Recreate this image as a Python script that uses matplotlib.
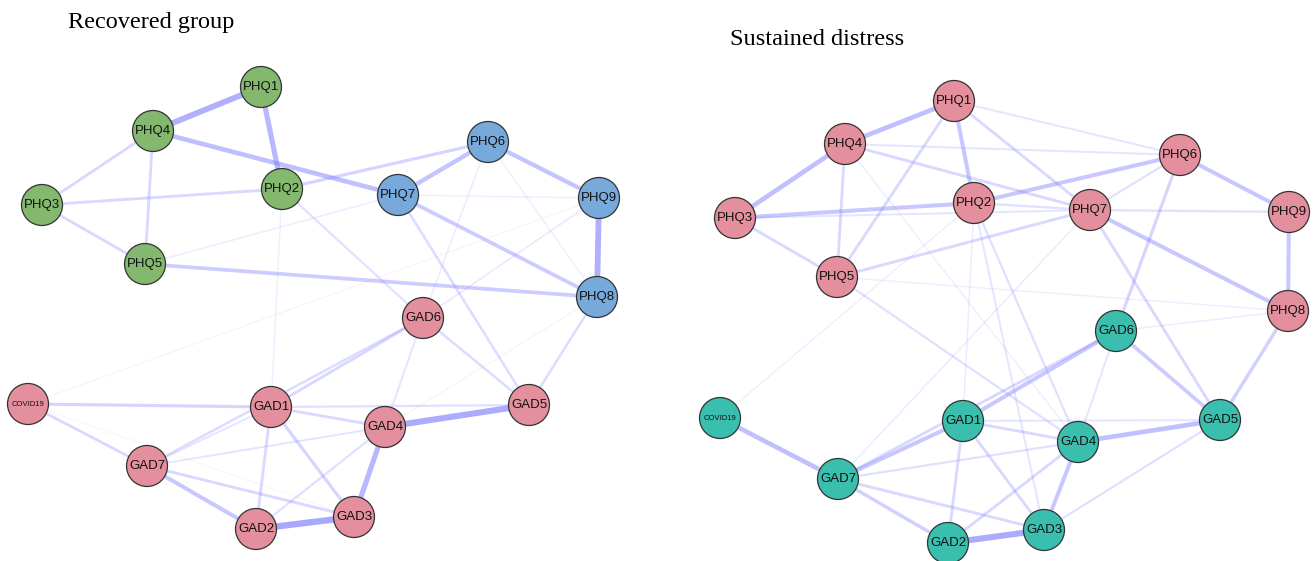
import matplotlib.pyplot as plt
from matplotlib.patches import Circle

# node layout (pixel coords of the original figure)
left_nodes = {
    "PHQ1": (261, 87), "PHQ4": (153, 131), "PHQ2": (282, 189), "PHQ3": (42, 205),
    "PHQ5": (145, 264), "PHQ6": (488, 142), "PHQ7": (398, 195), "PHQ9": (599, 198),
    "PHQ8": (597, 297), "GAD6": (423, 318), "COVID19": (28, 404), "GAD1": (271, 407),
    "GAD4": (385, 427), "GAD5": (529, 405), "GAD7": (147, 466), "GAD2": (256, 529),
    "GAD3": (354, 517),
}
right_nodes = {
    "PHQ1": (954, 101), "PHQ4": (845, 144), "PHQ2": (974, 203), "PHQ3": (735, 218),
    "PHQ5": (837, 277), "PHQ6": (1180, 155), "PHQ7": (1090, 210), "PHQ9": (1289, 212),
    "PHQ8": (1288, 311), "GAD6": (1116, 331), "COVID19": (720, 418), "GAD1": (963, 421),
    "GAD4": (1078, 442), "GAD5": (1220, 420), "GAD7": (838, 479), "GAD2": (948, 543),
    "GAD3": (1044, 530),
}

# node groups
left_green = ["PHQ1", "PHQ2", "PHQ3", "PHQ4", "PHQ5"]
left_blue = ["PHQ6", "PHQ7", "PHQ8", "PHQ9"]

# edges (node a, node b, weight) ; negative = red
left_edges = [
    ("PHQ1", "PHQ4", 0.85), ("PHQ1", "PHQ2", 0.75), ("PHQ4", "PHQ7", 0.65),
    ("PHQ4", "PHQ3", 0.35), ("PHQ4", "PHQ5", 0.35), ("PHQ3", "PHQ2", 0.35),
    ("PHQ3", "PHQ5", 0.35), ("PHQ2", "PHQ6", 0.4), ("PHQ7", "PHQ6", 0.6),
    ("PHQ6", "PHQ9", 0.6), ("PHQ9", "PHQ8", 0.85), ("PHQ5", "PHQ8", 0.5),
    ("PHQ7", "PHQ8", 0.5), ("PHQ7", "GAD5", 0.3), ("PHQ6", "GAD6", 0.12),
    ("PHQ2", "GAD6", 0.25), ("PHQ2", "GAD1", 0.1), ("PHQ7", "PHQ9", 0.1),
    ("PHQ5", "PHQ7", 0.12), ("PHQ9", "GAD6", 0.15), ("PHQ8", "GAD5", 0.3),
    ("PHQ6", "PHQ8", 0.1), ("PHQ8", "GAD4", -0.08), ("COVID19", "PHQ9", -0.08),
    ("GAD6", "GAD1", 0.35), ("GAD6", "GAD7", 0.3), ("GAD6", "GAD5", 0.3),
    ("GAD6", "GAD4", 0.2), ("COVID19", "GAD1", 0.4), ("COVID19", "GAD7", 0.35),
    ("GAD1", "GAD5", 0.25), ("GAD1", "GAD4", 0.35), ("GAD1", "GAD7", 0.2),
    ("GAD1", "GAD2", 0.35), ("GAD1", "GAD3", 0.4), ("GAD4", "GAD5", 0.9),
    ("GAD4", "GAD3", 0.75), ("GAD4", "GAD7", 0.2), ("GAD4", "GAD2", 0.25),
    ("GAD7", "GAD2", 0.55), ("GAD7", "GAD3", 0.35), ("GAD2", "GAD3", 0.95),
    ("COVID19", "GAD3", -0.05),
]
right_edges = [
    ("PHQ1", "PHQ4", 0.65), ("PHQ1", "PHQ2", 0.55), ("PHQ1", "PHQ5", 0.35),
    ("PHQ1", "PHQ7", 0.35), ("PHQ1", "PHQ6", 0.2), ("PHQ4", "PHQ3", 0.65),
    ("PHQ4", "PHQ5", 0.35), ("PHQ4", "PHQ6", 0.2), ("PHQ4", "PHQ7", 0.35),
    ("PHQ3", "PHQ2", 0.55), ("PHQ3", "PHQ5", 0.35), ("PHQ3", "PHQ7", 0.2),
    ("PHQ2", "PHQ6", 0.55), ("PHQ2", "PHQ7", 0.25), ("PHQ2", "GAD1", 0.12),
    ("PHQ2", "GAD4", 0.25), ("PHQ2", "GAD3", 0.2), ("PHQ5", "PHQ7", 0.35),
    ("PHQ5", "GAD4", 0.25), ("PHQ7", "PHQ6", 0.25), ("PHQ7", "PHQ9", 0.25),
    ("PHQ7", "PHQ8", 0.55), ("PHQ7", "GAD5", 0.35), ("PHQ6", "PHQ9", 0.55),
    ("PHQ6", "GAD6", 0.4), ("PHQ9", "PHQ8", 0.55), ("PHQ8", "GAD5", 0.45),
    ("PHQ8", "GAD6", 0.12), ("PHQ5", "PHQ8", 0.1), ("PHQ4", "GAD4", 0.1),
    ("GAD6", "GAD1", 0.55), ("GAD6", "GAD7", 0.35), ("GAD6", "GAD5", 0.5),
    ("GAD6", "GAD4", 0.2), ("COVID19", "GAD7", 0.65), ("COVID19", "PHQ2", 0.1),
    ("GAD1", "GAD5", 0.2), ("GAD1", "GAD4", 0.35), ("GAD1", "GAD7", 0.55),
    ("GAD1", "GAD2", 0.35), ("GAD1", "GAD3", 0.35), ("GAD4", "GAD5", 0.65),
    ("GAD4", "GAD3", 0.55), ("GAD4", "GAD7", 0.25), ("GAD4", "GAD2", 0.35),
    ("GAD7", "GAD2", 0.45), ("GAD7", "GAD3", 0.35), ("GAD2", "GAD3", 0.9),
    ("GAD3", "GAD5", 0.25), ("GAD7", "PHQ7", 0.12),
]

titles = ["Recovered group", "Sustained distress"]
title_pos = [(68, 22), (730, 39)]

pink = "#E48F9D"
green = "#84B86F"
blue = "#77AADB"
teal = "#3ABFAE"


def draw_net(ax, nodes, edges, colors):
    for a, b, w in edges:
        (x1, y1), (x2, y2) = nodes[a], nodes[b]
        c = (0.5, 0.5, 1.0) if w > 0 else (0.95, 0.6, 0.6)
        aw = abs(w)
        ax.plot([x1, x2], [y1, y2], color=c, lw=0.6 + 4.2 * aw,
                alpha=min(1, 0.07 + 0.65 * aw), solid_capstyle="butt", zorder=1)
    for name, (x, y) in nodes.items():
        ax.add_patch(Circle((x, y), 20.5, facecolor=colors[name], edgecolor="#333333",
                            lw=0.9, zorder=3))
        fs = 5.5 if name == "COVID19" else 9.5
        ax.text(x, y, name, ha="center", va="center", fontsize=fs,
                family="Liberation Sans", color="#111111", zorder=4)


fig = plt.figure(figsize=(13.14, 5.61), dpi=100)
ax = fig.add_axes([0, 0, 1, 1])
ax.set_xlim(0, 1314)
ax.set_ylim(561, 0)
ax.axis("off")

left_colors = {n: (green if n in left_green else blue if n in left_blue else pink)
               for n in left_nodes}
right_colors = {n: (pink if n.startswith("PHQ") else teal) for n in right_nodes}

draw_net(ax, left_nodes, left_edges, left_colors)
draw_net(ax, right_nodes, right_edges, right_colors)

for t, (x, y) in zip(titles, title_pos):
    ax.text(x, y, t, ha="left", va="center", fontsize=17.5, family="Liberation Serif")

fig.savefig("out.png", dpi=100)
